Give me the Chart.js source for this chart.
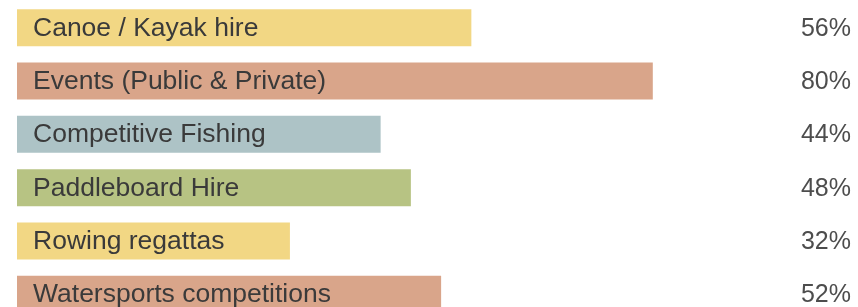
<!DOCTYPE html>
<html>
<head>
<meta charset="utf-8">
<script src="https://cdn.jsdelivr.net/npm/chart.js@4/dist/chart.umd.min.js"></script>
<style>
  html, body { margin: 0; padding: 0; background: #fff; overflow: hidden; }
  #wrap { position: relative; width: 858px; height: 322px; }
</style>
</head>
<body>
<div id="wrap"><canvas id="chart"></canvas></div>
<script>
  /* ---------- Data ---------- */
  var CATEGORIES = [
    'Canoe / Kayak hire',
    'Events (Public & Private)',
    'Competitive Fishing',
    'Paddleboard Hire',
    'Rowing regattas',
    'Watersports competitions'
  ];
  var VALUES = [56, 80, 44, 48, 32, 52];
  var BAR_COLORS = ['#f2d784', '#d9a58a', '#adc3c6', '#b7c383', '#f2d784', '#d9a58a'];

  var X_MIN = -4.1;
  var X_MAX = 100;

  /* ---------- Text labels on bars ---------- */
  var barLabels = {
    id: 'barLabels',
    afterDatasetsDraw: function (chart) {
      var ctx = chart.ctx;
      var meta = chart.getDatasetMeta(0);
      ctx.save();
      ctx.textBaseline = 'alphabetic';
      meta.data.forEach(function (bar, i) {
        ctx.textAlign = 'left';
        ctx.fillStyle = '#3a3a3a';
        ctx.font = '26.5px "Liberation Sans", Arial, sans-serif';
        ctx.fillText(CATEGORIES[i], 33, bar.y + 8);

        ctx.textAlign = 'right';
        ctx.fillStyle = '#4d4d4d';
        ctx.font = '25px "Liberation Sans", Arial, sans-serif';
        ctx.fillText(VALUES[i] + '%', 851, bar.y + 8);
      });
      ctx.restore();
    }
  };

  new Chart(document.getElementById('chart'), {
    type: 'bar',
    data: {
      labels: CATEGORIES,
      datasets: [{
        data: VALUES,
        base: X_MIN,
        backgroundColor: BAR_COLORS,
        borderWidth: 0,
        barPercentage: 0.694,
        categoryPercentage: 1
      }]
    },
    options: {
      indexAxis: 'y',
      responsive: true,
      maintainAspectRatio: false,
      animation: false,
      layout: { padding: { left: 17, right: 54, top: 1, bottom: 1 } },
      plugins: {
        legend: { display: false },
        tooltip: { enabled: false }
      },
      scales: {
        x: { display: false, min: X_MIN, max: X_MAX },
        y: { display: false }
      }
    },
    plugins: [barLabels]
  });
</script>
</body>
</html>
